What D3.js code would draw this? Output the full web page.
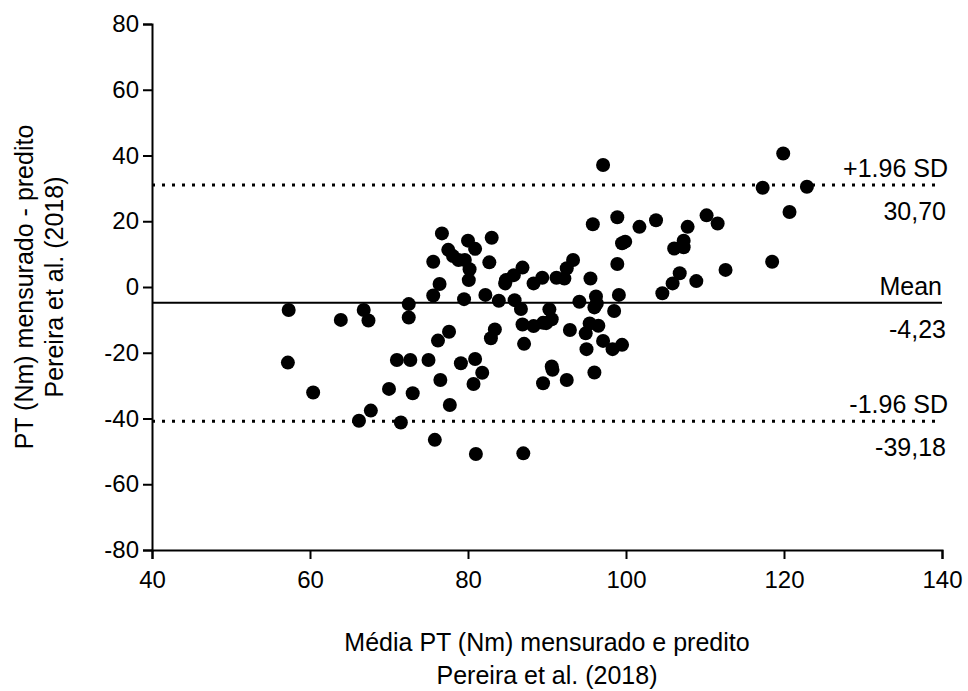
<!DOCTYPE html>
<html>
<head>
<meta charset="utf-8">
<script src="https://cdn.jsdelivr.net/npm/d3@7"></script>
<style>
  body { margin: 0; background: #fff; }
  svg { font-family: "Liberation Sans", Arial, sans-serif; }
</style>
</head>
<body>
<svg id="chart" width="968" height="691"></svg>
<script>
// mean of measured & predicted PT (x) vs difference (y)
const points = [
  [57.3,-7.0],[57.2,-23.0],[60.4,-32.1],[63.9,-10.0],[66.8,-7.0],[67.4,-10.2],[66.2,-40.7],[67.7,-37.6],
  [70.0,-31.0],[71.0,-22.2],[71.5,-41.2],[72.7,-22.2],[72.5,-5.2],[72.5,-9.3],[73.0,-32.3],[75.0,-22.2],
  [75.6,7.7],[76.4,0.9],[75.6,-2.6],[76.2,-16.3],[76.5,-28.3],[75.8,-46.5],[76.7,16.3],[77.6,-13.6],
  [77.7,-35.9],[77.5,11.3],[78.1,9.4],[78.8,8.2],[79.6,8.2],[79.5,-3.7],[79.1,-23.2],[80.2,5.4],
  [80.1,2.1],[80.0,14.1],[80.9,11.6],[80.9,-21.9],[80.7,-29.5],[81.0,-50.8],[81.8,-26.1],[82.2,-2.4],
  [82.7,7.5],[83.0,15.0],[83.9,-4.2],[83.4,-12.9],[82.9,-15.6],[84.7,1.1],[84.8,2.1],[85.8,3.6],
  [86.9,5.9],[85.9,-4.0],[86.7,-6.7],[86.9,-11.4],[87.1,-17.3],[87.0,-50.6],[88.3,1.1],[88.3,-11.9],
  [89.5,-10.9],[89.4,2.8],[89.5,-29.3],[89.9,-11.0],[90.3,-6.8],[90.6,-9.8],[90.6,-24.2],[90.7,-25.2],
  [91.2,2.8],[92.2,2.6],[92.5,5.7],[93.3,8.2],[92.9,-13.1],[92.5,-28.3],[94.1,-4.5],[95.4,-11.1],
  [94.9,-14.1],[95.0,-18.9],[95.5,2.6],[95.8,19.1],[96.0,-26.0],[96.2,-2.9],[96.3,-5.0],[96.0,-6.2],
  [96.5,-11.8],[97.1,37.1],[97.1,-16.4],[98.3,-18.9],[98.5,-7.3],[98.9,7.0],[99.1,-2.4],[98.9,21.2],
  [99.5,13.3],[99.9,13.8],[99.5,-17.6],[101.7,18.3],[103.8,20.3],[104.6,-1.9],[105.9,1.1],[106.8,4.2],
  [106.1,11.7],[107.3,12.1],[107.3,14.1],[107.8,18.3],[108.9,1.8],[110.2,21.8],[111.6,19.3],[112.6,5.2],
  [117.3,30.2],[118.5,7.7],[119.9,40.6],[120.7,22.8],[122.9,30.5]
];

// reference lines: drawn position, label above, value label below
const refLines = [
  { y: 31.0, name: "+1.96 SD", value: "30,70", dotted: true },
  { y: -4.8, name: "Mean", value: "-4,23", dotted: false },
  { y: -40.8, name: "-1.96 SD", value: "-39,18", dotted: true }
];

const xTicks = [40, 60, 80, 100, 120, 140];
const yTicks = [-80, -60, -40, -20, 0, 20, 40, 60, 80];

const xTitle = ["Média PT (Nm) mensurado e predito", "Pereira et al. (2018)"];
const yTitle = ["PT (Nm) mensurado - predito", "Pereira et al. (2018)"];

const tickFs = 24, labelFs = 25;
const margin = { top: 24, right: 26, bottom: 141, left: 152 };
const width = 968, height = 691;

const svg = d3.select("#chart");

const x = d3.scaleLinear().domain([40, 140]).range([margin.left, width - margin.right]);
const y = d3.scaleLinear().domain([-80, 80]).range([height - margin.bottom, margin.top]);

// reference lines
svg.append("g")
  .selectAll("line")
  .data(refLines)
  .join("line")
  .attr("x1", x(40))
  .attr("x2", x(140))
  .attr("y1", d => y(d.y))
  .attr("y2", d => y(d.y))
  .attr("stroke", "#000")
  .attr("stroke-width", d => d.dotted ? 3 : 2)
  .attr("stroke-dasharray", d => d.dotted ? "3,7" : null);

// labels beside lines (GraphPad style, right aligned near the end of the lines)
const lbl = svg.append("g").attr("font-size", labelFs).attr("text-anchor", "end");
lbl.selectAll("text.name")
  .data(refLines)
  .join("text")
  .attr("class", "name")
  .attr("x", d => d.dotted ? x(140) + 6 : x(140))
  .attr("y", d => y(d.y) - 8)
  .text(d => d.name);
lbl.selectAll("text.value")
  .data(refLines)
  .join("text")
  .attr("class", "value")
  .attr("x", x(140) + 4)
  .attr("y", d => y(d.y) + 35)
  .text(d => d.value);

// points
svg.append("g")
  .selectAll("circle")
  .data(points)
  .join("circle")
  .attr("cx", d => x(d[0]))
  .attr("cy", d => y(d[1]))
  .attr("r", 7)
  .attr("fill", "#000");

// axes
const xAxis = svg.append("g")
  .attr("transform", `translate(0,${y(-80)})`)
  .call(d3.axisBottom(x).tickValues(xTicks).tickFormat(d => String(d))
    .tickSizeOuter(0).tickSize(9).tickPadding(12));
const yAxis = svg.append("g")
  .attr("transform", `translate(${x(40)},0)`)
  .call(d3.axisLeft(y).tickValues(yTicks).tickFormat(d => String(d))
    .tickSizeOuter(0).tickSize(9).tickPadding(4));

[xAxis, yAxis].forEach(a => {
  a.attr("font-size", tickFs).attr("font-family", null);
  a.select(".domain").attr("stroke-width", 2);
  a.selectAll(".tick line").attr("stroke-width", 2);
  a.selectAll(".tick text").attr("fill", "#000");
});

// axis titles
svg.append("text")
  .attr("font-size", labelFs)
  .attr("text-anchor", "middle")
  .selectAll("tspan")
  .data(xTitle)
  .join("tspan")
  .attr("x", (x(40) + x(140)) / 2)
  .attr("y", (d, i) => 651 + i * 33)
  .text(d => d);

svg.append("text")
  .attr("font-size", labelFs)
  .attr("text-anchor", "middle")
  .attr("transform", `translate(0,${y(0)}) rotate(-90)`)
  .selectAll("tspan")
  .data(yTitle)
  .join("tspan")
  .attr("x", 0)
  .attr("y", (d, i) => 33 + i * 30)
  .text(d => d);
</script>
</body>
</html>
